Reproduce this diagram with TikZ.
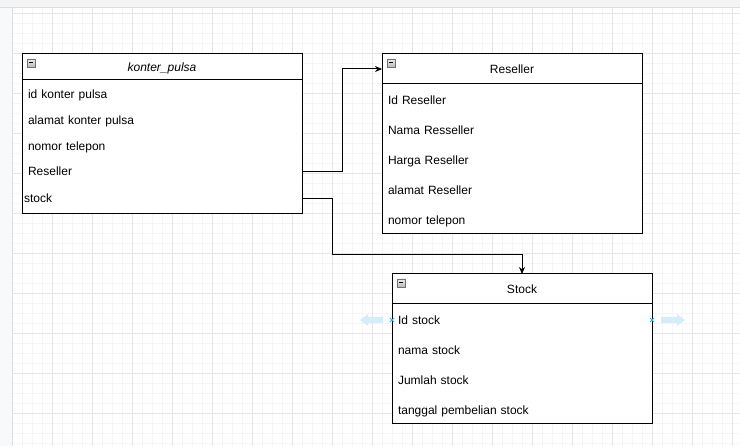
\documentclass[tikz,border=0pt]{standalone}
\usepackage{fontspec}
\setmainfont{Liberation Sans}
\usetikzlibrary{arrows.meta,positioning}
\tikzset{>={Stealth[length=7pt,width=6pt]}}
\definecolor{gridMajor}{HTML}{E6E6E6}
\definecolor{gridMinor}{HTML}{F5F5F5}
\definecolor{panelColor}{HTML}{F4F4F4}
\definecolor{sideColor}{HTML}{F8F9FB}
\definecolor{panelLine}{HTML}{DDDDDD}
\definecolor{handleColor}{HTML}{D6ECFA}
\definecolor{pointColor}{HTML}{29B6F2}
\colorlet{penColor}{black}
\tikzset{
  tablebox/.style={draw=penColor, fill=white, line width=1pt, anchor=north west, inner sep=0pt,
    outer sep=0pt, text height=10pt, text depth=1.4pt, font=\fontsize{12}{14}\selectfont},
  fieldrow/.style={anchor=west, inner ysep=0pt, inner xsep=6pt, outer sep=0pt, align=left,
    text height=10pt, text depth=1.4pt, font=\fontsize{12}{14}\selectfont},
  link/.style={->, draw=penColor, line width=1pt},
  foldicon/.style={draw=gray!90!black, line width=0.6pt, top color=gray!15, bottom color=gray!55},
  handle/.style={fill=handleColor},
}

\begin{document}
\begin{tikzpicture}[x=1pt, y=-1pt]
\useasboundingbox (0,0) rectangle (740,446);
% canvas
\fill[white] (0,0) rectangle (740,446);
\foreach \gx in {12,22,...,740} \draw[gridMinor, line width=1pt] (\gx,8) -- (\gx,446);
\foreach \gy in {14,24,...,446} \draw[gridMinor, line width=1pt] (12,\gy) -- (740,\gy);
\foreach \gx in {12,52,...,740} \draw[gridMajor, line width=1pt] (\gx,8) -- (\gx,446);
\foreach \gy in {14,54,...,446} \draw[gridMajor, line width=1pt] (12,\gy) -- (740,\gy);
\fill[panelColor] (0,0) rectangle (740,8);
\fill[sideColor] (0,8) rectangle (12,446);
\draw[panelLine, line width=1pt] (0,8) -- (740,8);
\draw[panelLine, line width=1pt] (12,8) -- (12,446);

% konter_pulsa
\node[tablebox, minimum width=280pt, minimum height=134pt] (kp-body) at (22,80) {};
\node[tablebox, minimum width=280pt, minimum height=26pt] (kp-head) at (22,54) {\itshape konter\_pulsa};
\draw[foldicon] (27,59) rectangle (35,67);
\draw[line width=1pt] (29,63) -- (33,63);
\node[fieldrow, text width=268pt] (kp-id) at (22,94) {id konter pulsa};
\node[fieldrow, text width=268pt] (kp-alamat) at (22,120) {alamat konter pulsa};
\node[fieldrow, text width=268pt] (kp-nomor) at (22,146) {nomor telepon};
\node[fieldrow, text width=268pt] (kp-reseller) at (22,171.5) {Reseller};
\node[fieldrow, text width=276pt, inner xsep=2pt] (kp-stock) at (22,198.5) {stock};

% Reseller
\node[tablebox, minimum width=260pt, minimum height=150pt] (res-body) at (382,84) {};
\node[tablebox, minimum width=260pt, minimum height=30pt] (res-head) at (382,54) {Reseller};
\draw[foldicon] (387,59) rectangle (395,67);
\draw[line width=1pt] (389,63) -- (393,63);
\node[fieldrow, text width=248pt] (res-id) at (382,100) {Id Reseller};
\node[fieldrow, text width=248pt] (res-nama) at (382,130) {Nama Resseller};
\node[fieldrow, text width=248pt] (res-harga) at (382,160) {Harga Reseller};
\node[fieldrow, text width=248pt] (res-alamat) at (382,190) {alamat Reseller};
\node[fieldrow, text width=248pt] (res-nomor) at (382,220) {nomor telepon};

% Stock
\node[tablebox, minimum width=260pt, minimum height=120pt] (stk-body) at (392,304) {};
\node[tablebox, minimum width=260pt, minimum height=30pt] (stk-head) at (392,274) {Stock};
\draw[foldicon] (397,279) rectangle (405,287);
\draw[line width=1pt] (399,283) -- (403,283);
\node[fieldrow, text width=248pt] (stk-id) at (392,320) {Id stock};
\node[fieldrow, text width=248pt] (stk-nama) at (392,350) {nama stock};
\node[fieldrow, text width=248pt] (stk-jumlah) at (392,380) {Jumlah stock};
\node[fieldrow, text width=248pt] (stk-tanggal) at (392,410) {tanggal pembelian stock};

% hover handles
\fill[handle] (360,320) -- (368,314) -- (368,317) -- (383,317) -- (383,323) -- (368,323) -- (368,326) -- cycle;
\fill[handle] (685,320) -- (677,314) -- (677,317) -- (661,317) -- (661,323) -- (677,323) -- (677,326) -- cycle;
\draw[pointColor, line width=0.8pt] (390,318) -- (394,322) (390,322) -- (394,318);
\draw[pointColor, line width=0.8pt] (650,318) -- (654,322) (650,322) -- (654,318);

% connectors
\coordinate (stock-bend) at (332,255);
\draw[link] (kp-reseller.east) -- ++(40,0) |- (res-head.west);
\draw[link] (kp-stock.east) -| (stock-bend) -| (stk-head.north);
\end{tikzpicture}
\end{document}
